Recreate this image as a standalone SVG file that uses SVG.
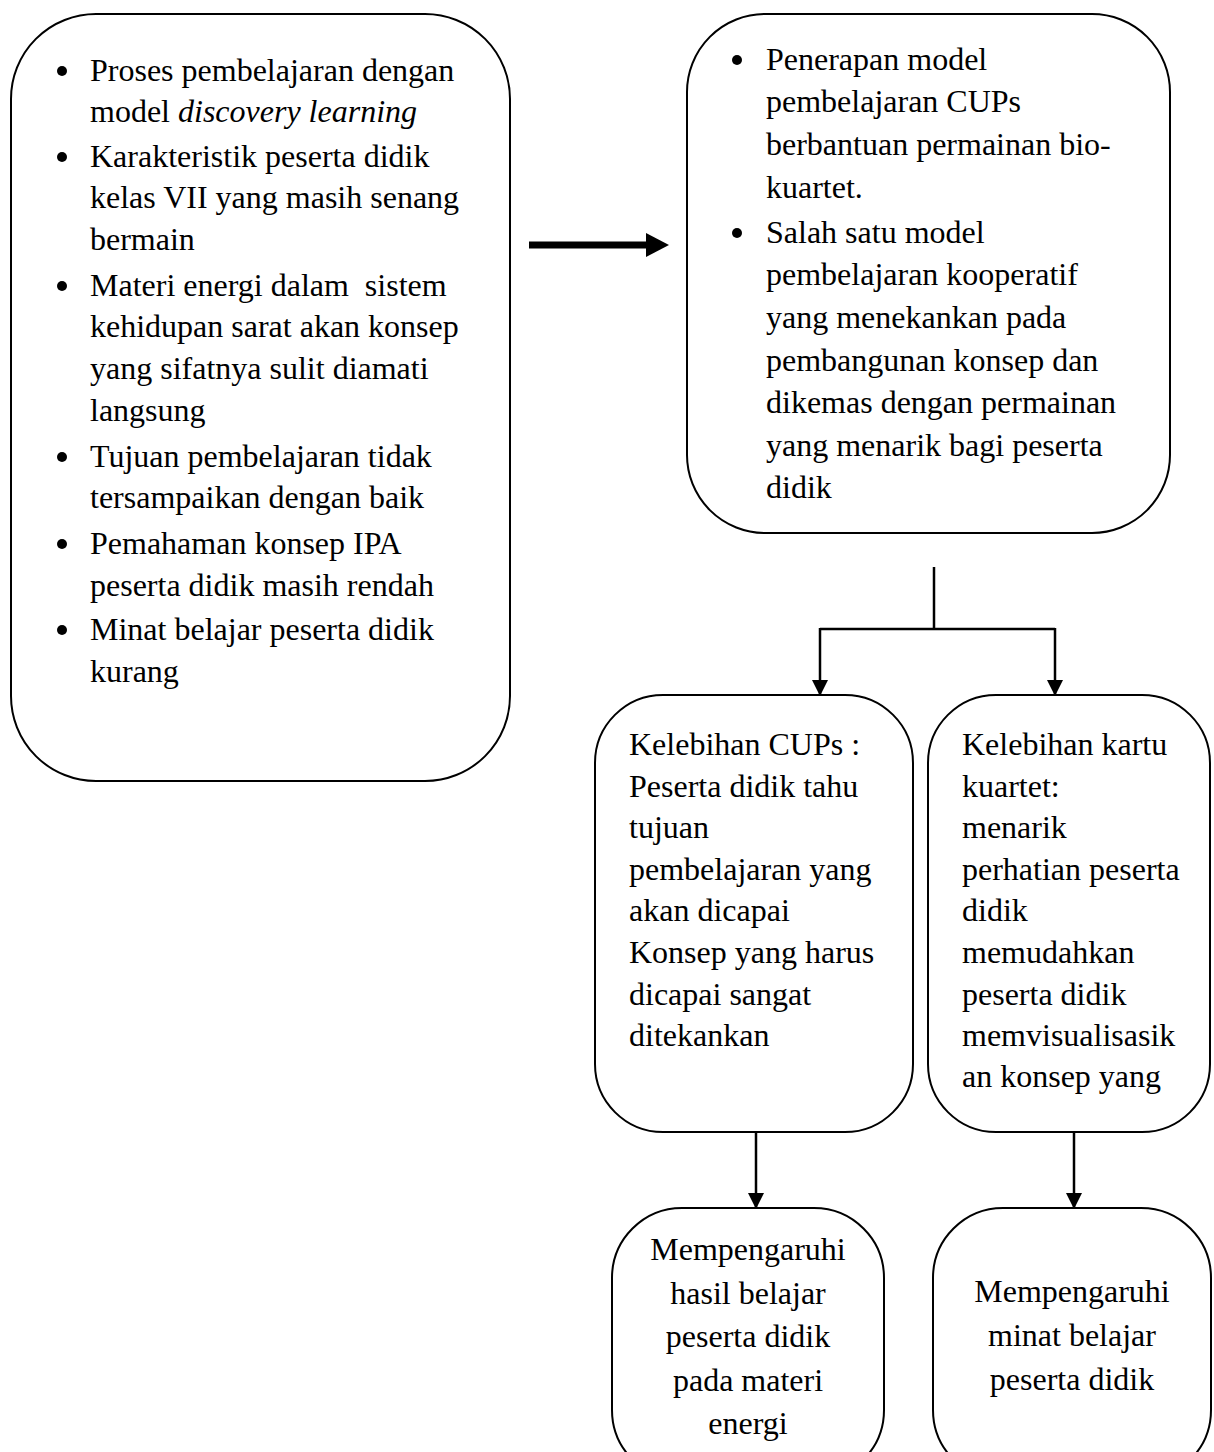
<svg xmlns="http://www.w3.org/2000/svg" width="1214" height="1452" viewBox="0 0 1214 1452">
<style>
.box{fill:#fff;stroke:#000;stroke-width:2}
.t{font-family:"Liberation Serif","Times New Roman",serif;font-size:32px;fill:#000}
.c{text-anchor:middle}
.conn{fill:none;stroke:#000;stroke-width:2.5}
</style>
<defs>
<marker id="ah" markerUnits="userSpaceOnUse" markerWidth="16" markerHeight="16" viewBox="0 0 16 16" refX="15" refY="8" orient="auto">
<path d="M0,0 L16,8 L0,16 Z" fill="#000"/>
</marker>
</defs>
<rect width="1214" height="1452" fill="#fff"/>

<g id="node-left">
<rect class="box" x="11" y="14" width="499" height="767" rx="85" ry="85"/>
<g fill="#000">
<circle cx="62" cy="71" r="5"/><circle cx="62" cy="157" r="5"/><circle cx="62" cy="286" r="5"/><circle cx="62" cy="457" r="5"/><circle cx="62" cy="544" r="5"/><circle cx="62" cy="630" r="5"/>
</g>
<text class="t" x="90" y="81">Proses pembelajaran dengan</text>
<text class="t" x="90" y="122">model <tspan font-style="italic">discovery learning</tspan></text>
<text class="t" x="90" y="167">Karakteristik peserta didik</text>
<text class="t" x="90" y="208">kelas VII yang masih senang</text>
<text class="t" x="90" y="250">bermain</text>
<text class="t" x="90" y="296">Materi energi dalam &#160;sistem</text>
<text class="t" x="90" y="337">kehidupan sarat akan konsep</text>
<text class="t" x="90" y="379">yang sifatnya sulit diamati</text>
<text class="t" x="90" y="421">langsung</text>
<text class="t" x="90" y="467">Tujuan pembelajaran tidak</text>
<text class="t" x="90" y="508">tersampaikan dengan baik</text>
<text class="t" x="90" y="554">Pemahaman konsep IPA</text>
<text class="t" x="90" y="596">peserta didik masih rendah</text>
<text class="t" x="90" y="640">Minat belajar peserta didik</text>
<text class="t" x="90" y="682">kurang</text>
</g>

<g id="node-cups">
<rect class="box" x="687" y="14" width="483" height="519" rx="78" ry="78"/>
<g fill="#000"><circle cx="737" cy="60" r="5"/><circle cx="737" cy="233" r="5"/></g>
<text class="t" x="766" y="70">Penerapan model</text>
<text class="t" x="766" y="112">pembelajaran CUPs</text>
<text class="t" x="766" y="155">berbantuan permainan bio-</text>
<text class="t" x="766" y="198">kuartet.</text>
<text class="t" x="766" y="243">Salah satu model</text>
<text class="t" x="766" y="285">pembelajaran kooperatif</text>
<text class="t" x="766" y="328">yang menekankan pada</text>
<text class="t" x="766" y="371">pembangunan konsep dan</text>
<text class="t" x="766" y="413">dikemas dengan permainan</text>
<text class="t" x="766" y="456">yang menarik bagi peserta</text>
<text class="t" x="766" y="498">didik</text>
</g>

<g id="node-kelebihan-cups">
<rect class="box" x="595" y="695" width="318" height="437" rx="68" ry="68"/>
<text class="t" x="629" y="755">Kelebihan CUPs :</text>
<text class="t" x="629" y="797">Peserta didik tahu</text>
<text class="t" x="629" y="838">tujuan</text>
<text class="t" x="629" y="880">pembelajaran yang</text>
<text class="t" x="629" y="921">akan dicapai</text>
<text class="t" x="629" y="963">Konsep yang harus</text>
<text class="t" x="629" y="1005">dicapai sangat</text>
<text class="t" x="629" y="1046">ditekankan</text>
</g>

<g id="node-kelebihan-kartu">
<rect class="box" x="928" y="695" width="282" height="437" rx="68" ry="68"/>
<text class="t" x="962" y="755">Kelebihan kartu</text>
<text class="t" x="962" y="797">kuartet:</text>
<text class="t" x="962" y="838">menarik</text>
<text class="t" x="962" y="880">perhatian peserta</text>
<text class="t" x="962" y="921">didik</text>
<text class="t" x="962" y="963">memudahkan</text>
<text class="t" x="962" y="1005">peserta didik</text>
<text class="t" x="962" y="1046">memvisualisasik</text>
<text class="t" x="962" y="1087">an konsep yang</text>
</g>

<g id="node-hasil">
<rect class="box" x="612" y="1208" width="272" height="272" rx="70" ry="70"/>
<text class="t c" x="748" y="1260">Mempengaruhi</text>
<text class="t c" x="748" y="1304">hasil belajar</text>
<text class="t c" x="748" y="1347">peserta didik</text>
<text class="t c" x="748" y="1391">pada materi</text>
<text class="t c" x="748" y="1434">energi</text>
</g>

<g id="node-minat">
<rect class="box" x="933" y="1208" width="278" height="272" rx="70" ry="70"/>
<text class="t c" x="1072" y="1302">Mempengaruhi</text>
<text class="t c" x="1072" y="1346">minat belajar</text>
<text class="t c" x="1072" y="1390">peserta didik</text>
</g>

<g id="connectors">
<line x1="529" y1="245" x2="648" y2="245" stroke="#000" stroke-width="7"/>
<path d="M646,233 L669,245 L646,257 Z" fill="#000"/>
<path class="conn" d="M934,567 L934,629"/>
<path class="conn" d="M820,629 L1055,629"/>
<path class="conn" d="M820,628 L820,695" marker-end="url(#ah)"/>
<path class="conn" d="M1055,628 L1055,695" marker-end="url(#ah)"/>
<path class="conn" d="M756,1132 L756,1208" marker-end="url(#ah)"/>
<path class="conn" d="M1074,1132 L1074,1208" marker-end="url(#ah)"/>
</g>
</svg>
